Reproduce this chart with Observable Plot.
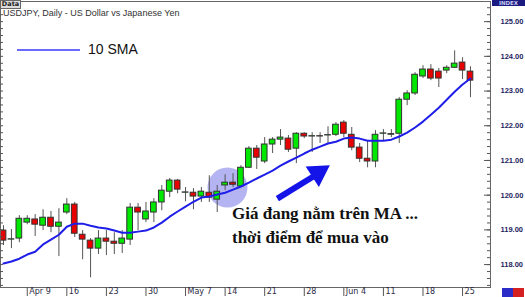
<!DOCTYPE html>
<html><head><meta charset="utf-8">
<script src="https://cdn.jsdelivr.net/npm/d3@7"></script>
<script src="https://cdn.jsdelivr.net/npm/@observablehq/plot@0.6"></script>
<style>
body{margin:0;background:#fff;}
#wrap{position:relative;width:525px;height:297px;overflow:hidden;background:#fff;}
#wrap svg{position:absolute;left:0;top:0;}
.ov{position:absolute;white-space:nowrap;}
#datatab{left:0;top:0;width:19px;height:7px;background:#dcdcdc;border:1px solid #666;font:bold 6.5px "DejaVu Sans";line-height:7px;text-align:center;color:#222;}
#title{left:3px;top:8px;font:9px "Liberation Sans";color:#333;}
#legline{left:17px;top:49px;width:63px;height:2px;background:#6a6aff;}
#legtext{left:88px;top:41px;font:14px "Liberation Sans";color:#111;}
#indextab{left:492px;top:0;width:33px;height:6px;background:#1a1a80;font:bold 5.5px "DejaVu Sans";line-height:6px;text-align:center;color:#c8c8f0;}
#note{left:232px;top:202px;font:bold 17px "Liberation Serif";color:#111;line-height:24px;}
#b1{left:502px;top:288px;width:11px;height:9px;background:#2c2cc8;}
#b2{left:513px;top:288px;width:11px;height:9px;background:#d42020;}
</style></head><body><div id="wrap"></div><script>
const open = [118.98,118.72,118.75,119.21,119.30,119.12,119.35,119.09,119.50,119.73,
118.86,118.69,118.46,118.75,118.66,118.60,118.72,119.64,119.30,119.50,
119.79,120.10,120.42,120.07,120.07,119.96,120.07,119.87,120.28,120.36,
120.25,120.79,121.34,120.97,121.46,121.60,121.63,121.34,121.77,121.69,
121.70,121.72,121.74,122.09,121.74,121.37,121.05,120.97,121.77,121.74,
121.77,122.75,122.93,123.42,123.62,123.56,123.59,123.67,123.82,123.56];
const high = [119.12,119.01,119.41,119.41,119.44,119.58,119.53,119.61,119.90,119.79,
118.98,118.75,118.98,118.98,118.92,118.98,119.76,119.76,119.79,119.90,
120.28,120.48,120.45,120.22,120.19,120.22,120.56,120.28,120.59,120.62,
120.85,121.40,121.43,121.66,121.66,121.89,121.72,121.80,121.80,121.80,
121.80,121.97,122.09,122.15,121.95,121.49,121.57,121.86,121.89,121.89,
122.81,123.01,123.53,123.73,123.76,123.65,123.73,124.16,123.96,123.70];
const low = [118.55,118.46,118.63,119.15,118.81,118.98,118.92,118.23,119.44,118.78,
118.14,117.62,118.29,118.26,118.29,118.32,118.55,118.98,119.21,119.21,
119.55,119.93,120.04,119.81,119.58,119.79,119.79,119.50,120.13,120.22,
120.22,120.77,120.74,120.91,121.20,121.43,121.23,120.91,121.63,121.23,
121.49,121.49,121.69,121.66,121.28,120.94,120.79,120.79,121.57,121.66,
121.49,122.58,122.87,123.36,123.30,123.10,123.50,123.65,123.33,122.81];
const close = [118.69,118.73,119.32,119.32,119.15,119.35,119.09,119.21,119.73,118.89,
118.72,118.46,118.75,118.66,118.60,118.75,119.64,119.50,119.53,119.79,
120.13,120.42,120.16,120.08,119.96,120.10,119.93,120.10,120.36,120.30,
120.79,121.34,121.08,121.46,121.60,121.66,121.31,121.77,121.69,121.70,
121.69,121.73,122.03,121.77,121.37,121.05,120.97,121.74,121.78,121.76,
122.75,122.93,123.47,123.62,123.36,123.36,123.67,123.79,123.59,123.30];
const sma = [118.03,118.09,118.17,118.29,118.37,118.58,118.72,118.86,119.09,119.18,
119.18,119.12,119.07,119.04,118.98,118.92,118.92,118.95,118.98,119.07,
119.21,119.38,119.53,119.67,119.81,119.93,119.96,120.02,120.07,120.16,
120.25,120.36,120.48,120.59,120.71,120.85,120.97,121.08,121.20,121.31,
121.40,121.49,121.54,121.63,121.66,121.63,121.57,121.57,121.57,121.60,
121.69,121.80,121.95,122.12,122.32,122.52,122.75,122.98,123.19,123.36];
const xTickIndex = [3,8,13,18,23,28,33,38,43,48,53,58];
const xTickLabels = ["Apr 9","16","23","30","May 7","14","21","28","Jun 4","11","18","25"];
const yTickValues = [118,119,120,121,122,123,124,125];
const highlight = [{i:28.3, p:120.22}];
const arrowShaft = [{i1:34.6, p1:119.90, i2:39.3, p2:120.56}];
const arrowHead = [{i:39.75, p:120.64}];

const data = open.map((o,i)=>({i, open:o, high:high[i], low:low[i], close:close[i], sma:sma[i]}));
const minor = d3.range(117.4, 125.55, 0.2);

const chart = Plot.plot({
  width:525, height:297, marginLeft:0, marginRight:35, marginTop:1, marginBottom:10,
  x:{domain:[-0.38, 61.53], axis:null},
  y:{domain:[117.34, 125.58], axis:null},
  style:{background:"transparent", fontFamily:"DejaVu Sans", overflow:"visible"},
  marks:[
    Plot.dot(highlight, {x:"i", y:"p", r:20, fill:"#b4b4f2", stroke:"none"}),
    Plot.ruleX(data, {x:"i", y1:"low", y2:"high", stroke:"#555", strokeWidth:1}),
    Plot.rect(data, {x1:d=>d.i-0.36, x2:d=>d.i+0.36, y1:"open", y2:"close",
      fill:d=>d.close>=d.open ? "#00e800" : "#e80000", stroke:"#333", strokeWidth:1}),
    Plot.line(data, {x:"i", y:"sma", stroke:"#1e1ee8", strokeWidth:2}),
    Plot.link(arrowShaft, {x1:"i1", y1:"p1", x2:"i2", y2:"p2", stroke:"#1414e8", strokeWidth:6}),
    Plot.dot(arrowHead, {x:"i", y:"p", symbol:"triangle", r:9, fill:"#1414e8", stroke:"none", rotate:57}),
    Plot.frame({stroke:"#666"}),
    Plot.tickY(minor, {y:d=>d, insetLeft:487, stroke:"#555"}),
    Plot.tickY(minor, {y:d=>d, insetRight:487, stroke:"#555"}),
    Plot.tickY(yTickValues, {y:d=>d, insetLeft:484, stroke:"#555"}),
    Plot.axisY(yTickValues, {anchor:"right", tickSize:0, tickPadding:10, tickFormat:d=>d.toFixed(2),
      fontSize:7.5, fontWeight:"bold", fontFamily:"Liberation Sans", fill:"#1e1e5e"}),
    Plot.axisX(xTickIndex, {anchor:"bottom", tickSize:9, tickFormat:()=>"", stroke:"#555"}),
    Plot.axisX(xTickIndex, {anchor:"bottom", tickSize:0, tickPadding:1, dx:2, textAnchor:"start",
      tickFormat:d=>xTickLabels[xTickIndex.indexOf(d)], fontSize:8, fill:"#2a2a44"})
  ]
});
const wrap = document.getElementById("wrap");
wrap.appendChild(chart);
wrap.insertAdjacentHTML("beforeend", `
<div class="ov" id="datatab">Data</div>
<div class="ov" id="title">USDJPY, Daily - US Dollar vs Japanese Yen</div>
<div class="ov" id="legline"></div>
<div class="ov" id="legtext">10 SMA</div>
<div class="ov" id="indextab">INDEX</div>
<div class="ov" id="note">Giá đang nằm trên MA ...<br>thời điểm để mua vào</div>
<div class="ov" id="b1"></div><div class="ov" id="b2"></div>`);
</script></body></html>
